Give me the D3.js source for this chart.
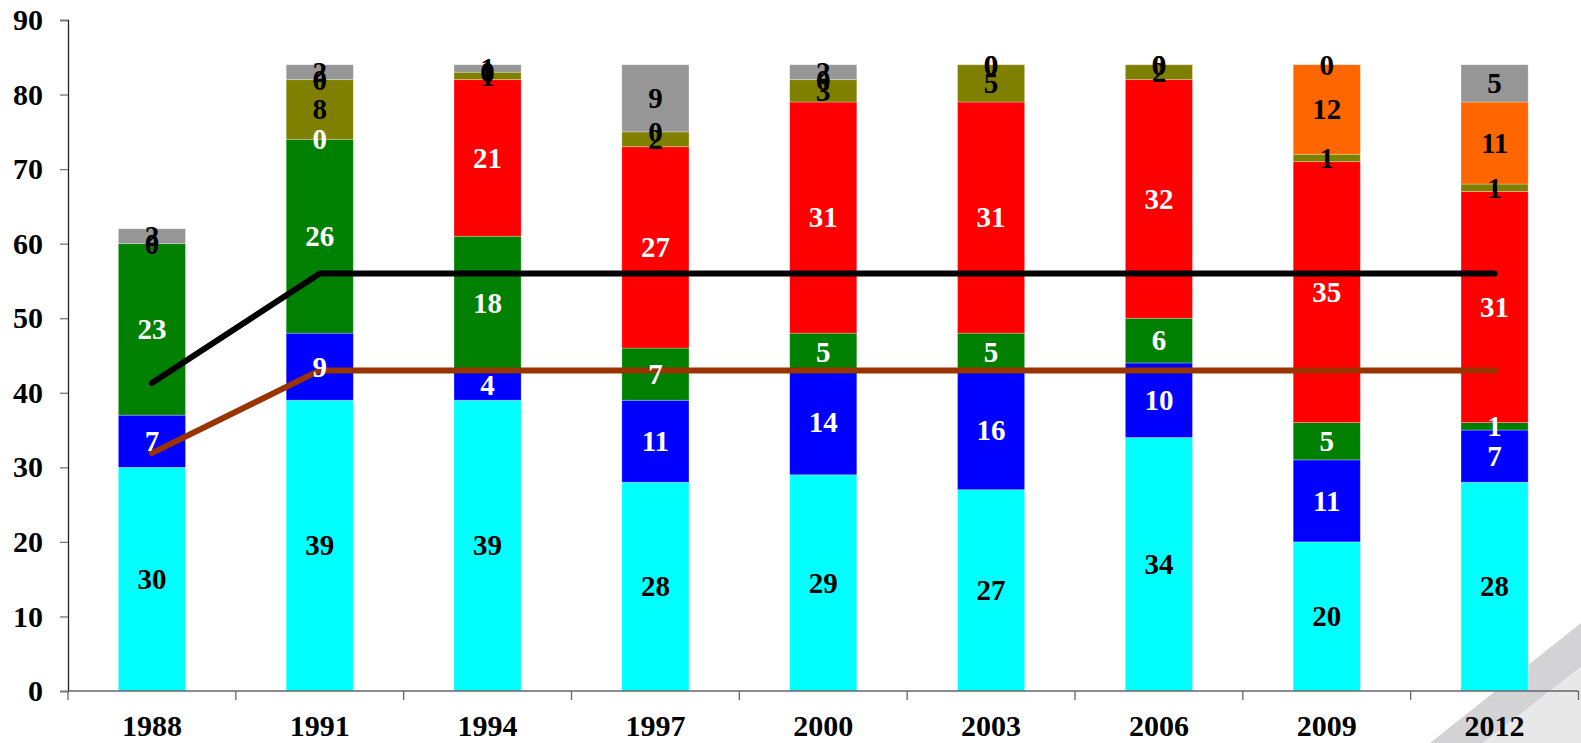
<!DOCTYPE html>
<html lang="en">
<head>
    <meta charset="UTF-8">
    <title>Stacked bars 1988-2012</title>
    <script src="https://d3js.org/d3.v7.min.js"></script>
    <style>
        body {
            margin: 0;
            background-color: white;
        }
        svg text {
            font-family: "Liberation Serif", "Times New Roman", serif;
            font-weight: bold;
        }
    </style>
</head>
<body>
    <div id="chart"></div>

    <script>
        // Data
        const years = ["1988", "1991", "1994", "1997", "2000", "2003", "2006", "2009", "2012"];
        const cyanValues   = [30, 39, 39, 28, 29, 27, 34, 20, 28];
        const blueValues   = [7, 9, 4, 11, 14, 16, 10, 11, 7];
        const greenValues  = [23, 26, 18, 7, 5, 5, 6, 5, 1];
        const redValues    = [0, 0, 21, 27, 31, 31, 32, 35, 31];
        const oliveValues  = [0, 8, 1, 2, 3, 5, 2, 1, 1];
        const orangeValues = [0, 0, 0, 0, 0, 0, 0, 12, 11];
        const grayValues   = [2, 2, 1, 9, 2, 0, 0, 0, 5];
        const blackLine    = [41.3, 56, 56, 56, 56, 56, 56, 56, 56];
        const brownLine    = [31.9, 43, 43, 43, 43, 43, 43, 43, 43];
        const yTicks = [0, 10, 20, 30, 40, 50, 60, 70, 80, 90];

        const seriesList = [
            { key: "cyan",   values: cyanValues,   fill: "#00ffff", text: "#000" },
            { key: "blue",   values: blueValues,   fill: "#0000ff", text: "#fff" },
            { key: "green",  values: greenValues,  fill: "#008000", text: "#fff" },
            { key: "red",    values: redValues,    fill: "#ff0000", text: "#fff" },
            { key: "olive",  values: oliveValues,  fill: "#808000", text: "#000" },
            { key: "orange", values: orangeValues, fill: "#ff6600", text: "#000" },
            { key: "gray",   values: grayValues,   fill: "#969696", text: "#000" }
        ];

        const width = 1581;
        const height = 743;
        const margin = { top: 20, right: 2, bottom: 52, left: 68 };

        const svg = d3.select("#chart")
            .append("svg")
            .attr("width", width)
            .attr("height", height);

        // slide shadow decoration in the bottom-right corner
        svg.append("polygon")
            .attr("points", "1581,623 1430,743 1483,743 1581,667")
            .attr("fill", "#d3d3d5");
        svg.append("polygon")
            .attr("points", "1581,667 1483,743 1581,743")
            .attr("fill", "#e8e8e8");

        const x = d3.scaleBand()
            .domain(years)
            .range([margin.left, width - margin.right - 0.5])
            .padding(0);

        const y = d3.scaleLinear()
            .domain([0, 90])
            .range([height - margin.bottom, margin.top]);

        const barWidth = x.bandwidth() * 0.4;

        // build the stack table from the series arrays
        const table = years.map((yr, i) => {
            const row = { year: yr };
            seriesList.forEach(s => { row[s.key] = s.values[i]; });
            return row;
        });
        const stacked = d3.stack().keys(seriesList.map(s => s.key))(table);

        // bars
        stacked.forEach((layer, li) => {
            svg.append("g")
                .selectAll("rect")
                .data(layer)
                .enter()
                .append("rect")
                .attr("x", d => x(d.data.year) + (x.bandwidth() - barWidth) / 2)
                .attr("y", d => y(d[1]))
                .attr("width", barWidth)
                .attr("height", d => y(d[0]) - y(d[1]))
                .attr("fill", seriesList[li].fill)
                .attr("stroke", "rgba(255,255,255,0.35)")
                .attr("stroke-width", 0.8);
        });

        // y axis
        const yAxis = svg.append("g")
            .attr("transform", `translate(${margin.left},0)`)
            .call(d3.axisLeft(y).tickValues(yTicks).tickSize(8).tickPadding(17));
        yAxis.select(".domain").attr("stroke", "#222").attr("stroke-width", 1.3);
        yAxis.selectAll(".tick line").attr("stroke", "#777").attr("stroke-width", 1.3);
        yAxis.selectAll(".tick text")
            .attr("font-size", "30px")
            .attr("fill", "#000")
            .attr("font-family", "'Liberation Serif', 'Times New Roman', serif");

        // x axis: ticks sit between the categories
        const xAxisG = svg.append("g")
            .attr("transform", `translate(0,${y(0)})`);
        xAxisG.append("line")
            .attr("x1", margin.left)
            .attr("x2", x.range()[1])
            .attr("stroke", "#666")
            .attr("stroke-width", 1.5);
        const boundaries = years.map(yr => x(yr)).concat([x.range()[1]]);
        xAxisG.selectAll(".xtick")
            .data(boundaries)
            .enter()
            .append("line")
            .attr("x1", d => d)
            .attr("x2", d => d)
            .attr("y1", 0)
            .attr("y2", 9)
            .attr("stroke", "#666")
            .attr("stroke-width", 1.3);
        xAxisG.selectAll(".xlabel")
            .data(years)
            .enter()
            .append("text")
            .attr("x", d => x(d) + x.bandwidth() / 2)
            .attr("y", 45)
            .attr("text-anchor", "middle")
            .attr("font-size", "30px")
            .attr("fill", "#000")
            .text(d => d);

        // lines
        const line = d3.line()
            .x((d, i) => x(years[i]) + x.bandwidth() / 2)
            .y(d => y(d));

        svg.append("path")
            .datum(brownLine)
            .attr("d", line)
            .attr("fill", "none")
            .attr("stroke", "#993300")
            .attr("stroke-width", 6)
            .attr("stroke-linecap", "round")
            .attr("stroke-linejoin", "round");

        svg.append("path")
            .datum(blackLine)
            .attr("d", line)
            .attr("fill", "none")
            .attr("stroke", "#000")
            .attr("stroke-width", 6)
            .attr("stroke-linecap", "round")
            .attr("stroke-linejoin", "round");

        // segment labels, centred in each segment
        stacked.forEach((layer, li) => {
            svg.append("g")
                .selectAll("text")
                .data(layer)
                .enter()
                .append("text")
                .attr("x", d => x(d.data.year) + x.bandwidth() / 2)
                .attr("y", d => y((d[0] + d[1]) / 2))
                .attr("dy", "0.34em")
                .attr("text-anchor", "middle")
                .attr("font-size", "29px")
                .attr("fill", seriesList[li].text)
                .text(d => d[1] - d[0]);
        });
    </script>
</body>
</html>
